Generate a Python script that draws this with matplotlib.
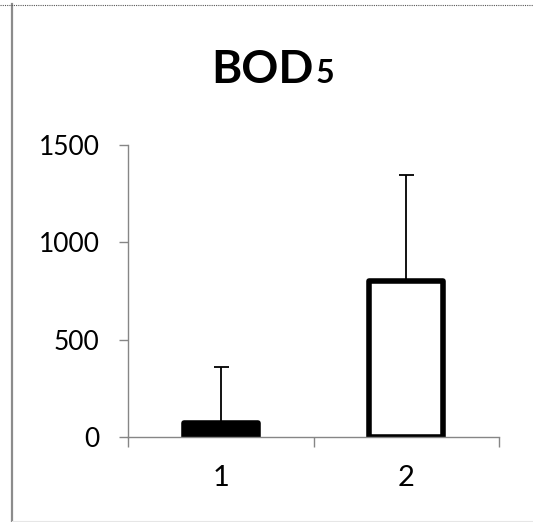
import matplotlib
matplotlib.use("Agg")
from matplotlib import pyplot as plt
from matplotlib.lines import Line2D

plt.rcParams['font.family'] = ['Lato', 'DejaVu Sans']

# data
categories = ["1", "2"]
means = [70, 800]
err_upper = [290, 545]
fills = ["black", "white"]

W, H = 533, 522
fig = plt.figure(figsize=(W / 100, H / 100), dpi=100)
ax = fig.add_axes([128 / W, 1 - 437 / H, (499 - 128) / W, (437 - 145) / H])

pos = list(range(1, len(categories) + 1))
ax.bar(pos, means, width=0.40, color=fills, edgecolor="black",
       linewidth=4.0, joinstyle="round", zorder=1)
ax.errorbar(pos, means, yerr=[[0] * len(means), err_upper], fmt="none",
            ecolor="black", elinewidth=1.3, capsize=5.4, capthick=1.3,
            zorder=2)

grey = "#868686"
ax.set_xlim(0.5, 2.5)
ax.set_ylim(0, 1500)
ax.set_yticks([0, 500, 1000, 1500])
ax.set_xticks([0.5, 1.5, 2.5])
ax.set_xticklabels([])
ax.set_xticks(pos, minor=True)
ax.set_xticklabels(categories, minor=True)
for s in ["top", "right"]:
    ax.spines[s].set_visible(False)
for s in ["left", "bottom"]:
    ax.spines[s].set_color(grey)
    ax.spines[s].set_linewidth(1.0)
ax.tick_params(axis="y", length=6.5, width=1.0, color=grey, labelsize=19,
               pad=14, labelcolor="black")
ax.tick_params(axis="x", which="major", length=7.5, width=1.0, color=grey)
ax.tick_params(axis="x", which="minor", length=0, labelsize=21, pad=20)

# title: BOD with a smaller 5
y_base = 1 - 83 / H
fig.text(314 / W, y_base, "BOD", ha="right", va="baseline",
         fontsize=33, fontweight="bold")
fig.text(316 / W, y_base, "5", ha="left", va="baseline",
         fontsize=23, fontweight="bold")

# frame lines of the original sheet
fig.add_artist(Line2D([12 / W, 12 / W], [0, 1 - 4 / H], color="#8c8c8c",
                      linewidth=1.6, transform=fig.transFigure))
fig.add_artist(Line2D([0, 1], [1 - 4.5 / H, 1 - 4.5 / H], color="#555555",
                      linewidth=0.8, linestyle=(0, (1, 1)),
                      transform=fig.transFigure))
fig.add_artist(Line2D([12 / W, 1], [1.5 / H, 1.5 / H], color="#e6e6e6",
                      linewidth=0.8, transform=fig.transFigure))

fig.savefig("out.png", dpi=100)
